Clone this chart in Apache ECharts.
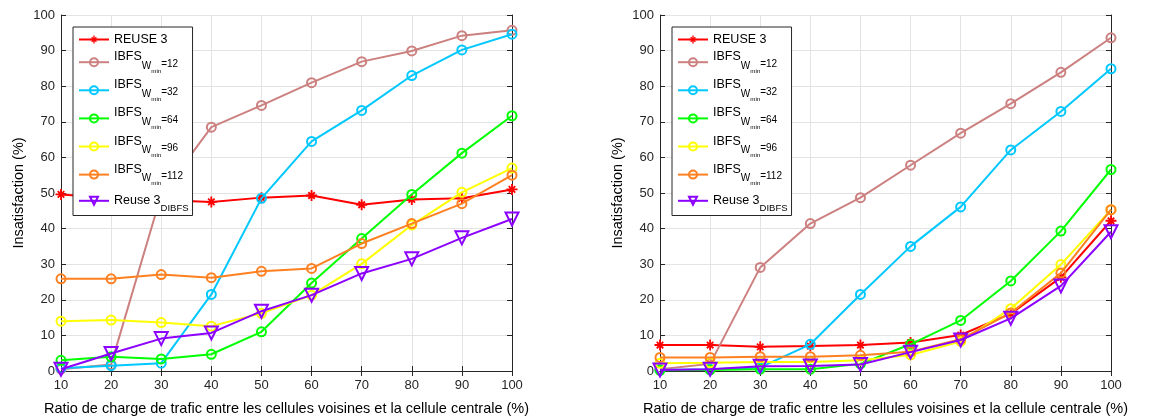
<!DOCTYPE html>
<html>
<head>
<meta charset="utf-8">
<script src="https://cdn.jsdelivr.net/npm/echarts@6/dist/echarts.min.js"></script>
<style>
html,body{margin:0;padding:0;background:#fff;}
#chart{width:1170px;height:417px;}
</style>
</head>
<body>
<div id="chart"></div>
<script>
// ---------- data ----------
const xValues = [10, 20, 30, 40, 50, 60, 70, 80, 90, 100];
const xTicks = [10, 20, 30, 40, 50, 60, 70, 80, 90, 100];
const yTicks = [0, 10, 20, 30, 40, 50, 60, 70, 80, 90, 100];

const seriesNames = ['REUSE 3', 'IBFS12', 'IBFS32', 'IBFS64', 'IBFS96', 'IBFS112', 'Reuse 3 DIBFS'];

// Left chart
const leftReuse3   = [49.6, 48.6, 48.0, 47.5, 48.7, 49.3, 46.7, 48.2, 48.5, 51.0];
const leftIbfs12   = [0.5, 1.8, 49.5, 68.5, 74.6, 81.0, 86.9, 89.9, 94.2, 95.7];
const leftIbfs32   = [0.8, 1.5, 2.2, 21.5, 48.5, 64.5, 73.2, 83.0, 90.2, 94.6];
const leftIbfs64   = [3.0, 4.0, 3.4, 4.7, 11.0, 24.7, 37.2, 49.6, 61.2, 71.7];
const leftIbfs96   = [14.0, 14.3, 13.6, 12.6, 16.2, 21.3, 30.1, 41.0, 50.2, 57.0];
const leftIbfs112  = [25.9, 25.9, 27.1, 26.2, 28.0, 28.8, 35.8, 41.4, 47.0, 55.0];
const leftDibfs    = [0.5, 4.9, 9.1, 10.7, 16.8, 21.3, 27.4, 31.5, 37.4, 42.7];

// Right chart
const rightReuse3  = [7.3, 7.3, 6.8, 7.0, 7.3, 8.0, 10.1, 16.1, 26.3, 42.2];
const rightIbfs12  = [0.5, 2.0, 29.1, 41.4, 48.7, 57.8, 66.8, 75.1, 83.9, 93.6];
const rightIbfs32  = [0.3, 0.5, 1.0, 7.5, 21.5, 35.0, 46.1, 62.1, 72.9, 84.9];
const rightIbfs64  = [0.2, 0.3, 0.5, 0.5, 2.0, 7.5, 14.2, 25.3, 39.3, 56.6];
const rightIbfs96  = [2.2, 2.3, 2.5, 2.5, 3.0, 4.5, 8.3, 17.5, 29.9, 45.3];
const rightIbfs112 = [3.8, 3.8, 4.0, 4.0, 4.4, 5.4, 8.9, 16.3, 27.5, 45.3];
const rightDibfs   = [0.3, 0.5, 1.3, 1.4, 1.8, 5.3, 8.7, 14.8, 23.9, 39.1];

const xAxisName = 'Ratio de charge de trafic entre les cellules voisines et la cellule centrale (%)';
const yAxisName = 'Insatisfaction (%)';

// ---------- styles ----------
const colors = ['#ff0000', '#cc8080', '#00c8ff', '#00ff00', '#ffff00', '#ff8020', '#8c00ff'];
const FONT = '"Liberation Sans", Arial, Helvetica, sans-serif';
const AXC = '#262626';
const starPath = 'path://M-1,-6L1,-6L1,6L-1,6Z M-6,-1L6,-1L6,1L-6,1Z ' +
  'M-2.83,-4.24L4.24,2.83L2.83,4.24L-4.24,-2.83Z M-4.24,2.83L2.83,-4.24L4.24,-2.83L-2.83,4.24Z';

const grids = [
  {left: 61, top: 15, width: 451, height: 356, outerBoundsMode: 'none', containLabel: false},
  {left: 660, top: 15, width: 451, height: 356, outerBoundsMode: 'none', containLabel: false}
];

function makeXAxes(gi) {
  return [
    {
      type: 'value', gridIndex: gi, min: 10, max: 100, interval: 10, position: 'bottom',
      axisLine: {show: true, lineStyle: {color: AXC, width: 1}},
      axisTick: {show: true, inside: true, length: 5, lineStyle: {color: AXC}},
      axisLabel: {color: AXC, fontFamily: FONT, fontSize: 13, margin: 8},
      splitLine: {show: true, lineStyle: {color: '#e3e3e3', width: 1}},
      name: xAxisName, nameLocation: 'middle', nameGap: 30,
      nameTextStyle: {color: '#000', fontFamily: FONT, fontSize: 14.5}
    },
    {
      type: 'value', gridIndex: gi, min: 10, max: 100, interval: 10, position: 'top',
      axisLine: {show: true, lineStyle: {color: AXC, width: 1}},
      axisTick: {show: true, inside: true, length: 5, lineStyle: {color: AXC}},
      axisLabel: {show: false}, splitLine: {show: false}
    }
  ];
}
function makeYAxes(gi) {
  return [
    {
      type: 'value', gridIndex: gi, min: 0, max: 100, interval: 10, position: 'left',
      axisLine: {show: true, lineStyle: {color: AXC, width: 1}},
      axisTick: {show: true, inside: true, length: 5, lineStyle: {color: AXC}},
      axisLabel: {color: AXC, fontFamily: FONT, fontSize: 13, margin: 6},
      splitLine: {show: true, lineStyle: {color: '#e3e3e3', width: 1}},
      name: yAxisName, nameLocation: 'middle', nameGap: 35,
      nameTextStyle: {color: '#000', fontFamily: FONT, fontSize: 14.5}
    },
    {
      type: 'value', gridIndex: gi, min: 0, max: 100, interval: 10, position: 'right',
      axisLine: {show: true, lineStyle: {color: AXC, width: 1}},
      axisTick: {show: true, inside: true, length: 5, lineStyle: {color: AXC}},
      axisLabel: {show: false}, splitLine: {show: false}
    }
  ];
}

function mkSeries(name, idx, values, axisIdx) {
  const c = colors[idx];
  let symbol = 'circle', size = 9, rotate = 0;
  let itemStyle = {color: 'rgba(255,255,255,0)', borderColor: c, borderWidth: 2};
  if (idx === 0) { symbol = starPath; size = 11; itemStyle = {color: c, borderWidth: 0}; }
  if (idx === 6) { symbol = 'triangle'; size = 13; rotate = 180; }
  return {
    name: name, type: 'line', xAxisIndex: axisIdx, yAxisIndex: axisIdx,
    data: xValues.map((x, i) => [x, values[i]]),
    symbol: symbol, symbolSize: size, symbolRotate: rotate, showAllSymbol: true,
    lineStyle: {color: c, width: 2},
    itemStyle: itemStyle,
    emphasis: {disabled: true},
    animation: false, z: 2 + idx
  };
}

const leftData = [leftReuse3, leftIbfs12, leftIbfs32, leftIbfs64, leftIbfs96, leftIbfs112, leftDibfs];
const rightData = [rightReuse3, rightIbfs12, rightIbfs32, rightIbfs64, rightIbfs96, rightIbfs112, rightDibfs];

const series = [];
seriesNames.forEach((n, i) => series.push(mkSeries(n, i, leftData[i], 0)));
seriesNames.forEach((n, i) => series.push(mkSeries(n, i, rightData[i], 2)));

function legendFormatter(name) {
  if (name.indexOf('IBFS') === 0) {
    const w = name.slice(4);
    return '{b|IBFS}{w|W}{m|min}{e|=' + w + '}';
  }
  if (name === 'Reuse 3 DIBFS') return '{r|Reuse 3}{d|DIBFS}';
  return '{p|' + name + '}';
}
const legendRich = {
  p: {fontFamily: FONT, fontSize: 12.5, color: '#000', verticalAlign: 'top', height: 14},
  b: {fontFamily: FONT, fontSize: 12.5, color: '#000', verticalAlign: 'top', height: 14},
  w: {fontFamily: FONT, fontSize: 10, color: '#000', verticalAlign: 'top', height: 10, padding: [11.3, 0, 0, 0]},
  m: {fontFamily: FONT, fontSize: 6.2, color: '#000', verticalAlign: 'top', height: 7, padding: [17.8, 0, 0, 0]},
  e: {fontFamily: FONT, fontSize: 10, color: '#000', verticalAlign: 'top', height: 10, padding: [9.3, 0, 0, 0]},
  r: {fontFamily: FONT, fontSize: 12.5, color: '#000', verticalAlign: 'top', height: 14, lineHeight: 20, padding: [3, 0, 0, 0]},
  d: {fontFamily: FONT, fontSize: 9.5, color: '#000', verticalAlign: 'top', height: 9, padding: [13.2, 0, 0, 0], lineHeight: 14}
};
function makeLegend(left) {
  return {
    show: true, orient: 'vertical', left: left, top: 27,
    data: seriesNames,
    itemWidth: 30, itemHeight: 10, itemGap: 4.3,
    padding: [6, 4, 2, 5],
    backgroundColor: '#ffffff', borderColor: AXC, borderWidth: 1,
    borderRadius: 0,
    selectedMode: false,
    formatter: legendFormatter,
    textStyle: {fontFamily: FONT, fontSize: 12.5, color: '#000', rich: legendRich}
  };
}

const option = {
  animation: false,
  backgroundColor: '#ffffff',
  grid: grids,
  xAxis: [].concat(makeXAxes(0), makeXAxes(1)),
  yAxis: [].concat(makeYAxes(0), makeYAxes(1)),
  legend: [makeLegend(73), makeLegend(672)],
  series: series
};

const chart = echarts.init(document.getElementById('chart'), null, {renderer: 'canvas'});
chart.setOption(option);
</script>
</body>
</html>
